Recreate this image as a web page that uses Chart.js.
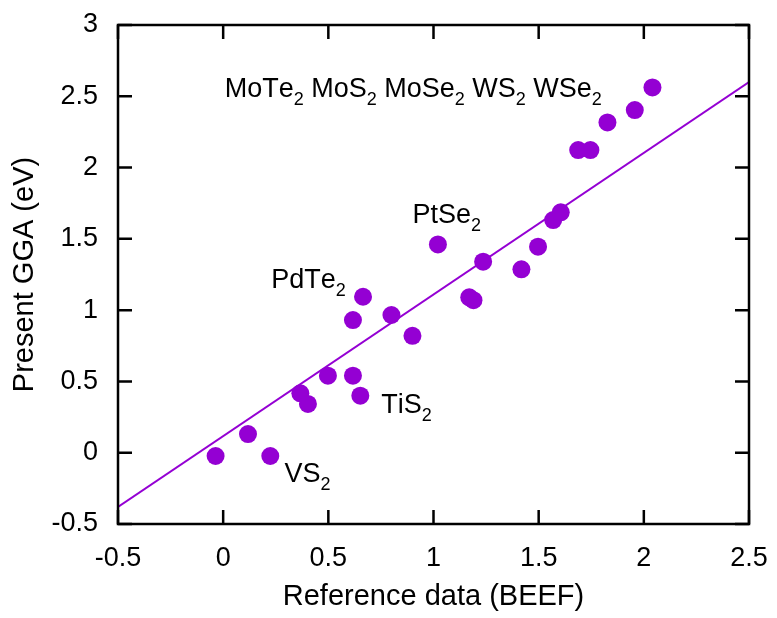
<!DOCTYPE html>
<html>
<head>
<meta charset="utf-8">
<script src="https://cdn.jsdelivr.net/npm/chart.js@4.4.1/dist/chart.umd.min.js"></script>
<style>
  html, body { margin: 0; padding: 0; background: #fff; }
</style>
</head>
<body>
<canvas id="gapChart" width="777" height="618"></canvas>
<script>
// BEEF reference vs present GGA band gaps (eV)
const beefX = [-0.036, 0.118, 0.224, 0.367, 0.403, 0.498, 0.617, 0.652, 0.617, 0.665,
               0.80, 0.90, 1.021, 1.17, 1.19, 1.236, 1.418, 1.497, 1.569, 1.605,
               1.688, 1.746, 1.827, 1.957, 2.041];
const ggaY = [-0.023, 0.131, -0.023, 0.417, 0.342, 0.540, 0.540, 0.400, 0.93, 1.094,
              0.966, 0.82, 1.461, 1.09, 1.07, 1.340, 1.286, 1.445, 1.632, 1.686,
              2.123, 2.123, 2.317, 2.403, 2.562];

// fitted line end points
const fitX = [-0.5, 2.5];
const fitY = [-0.38, 2.60];

// annotations (digits are drawn as subscripts)
const noteText = ["MoTe2 MoS2 MoSe2 WS2 WSe2", "PtSe2", "PdTe2", "TiS2", "VS2"];
const noteX = [0.007, 0.90, 0.229, 0.752, 0.292];
const noteY = [2.494, 1.611, 1.155, 0.280, -0.203];

const xTicks = [-0.5, 0, 0.5, 1, 1.5, 2, 2.5];
const yTicks = [-0.5, 0, 0.5, 1, 1.5, 2, 2.5, 3];

const purple = "#9400D3";
const fontFam = "'Liberation Sans', Arial, sans-serif";

const points = beefX.map((x, i) => ({ x: x, y: ggaY[i] }));
const fitLine = fitX.map((x, i) => ({ x: x, y: fitY[i] }));

const frameTicks = {
  id: "frameTicks",
  afterDatasetsDraw(chart) {
    const ctx = chart.ctx;
    const a = chart.chartArea;
    const xs = chart.scales.x;
    const ys = chart.scales.y;
    const len = 14;
    ctx.save();
    ctx.strokeStyle = "#000";
    ctx.lineWidth = 2.5;
    ctx.beginPath();
    xTicks.forEach(v => {
      const px = xs.getPixelForValue(v);
      ctx.moveTo(px, a.bottom); ctx.lineTo(px, a.bottom - len);
      ctx.moveTo(px, a.top); ctx.lineTo(px, a.top + len);
    });
    yTicks.forEach(v => {
      const py = ys.getPixelForValue(v);
      ctx.moveTo(a.left, py); ctx.lineTo(a.left + len, py);
      ctx.moveTo(a.right, py); ctx.lineTo(a.right - len, py);
    });
    ctx.stroke();
    ctx.strokeRect(a.left, a.top, a.right - a.left, a.bottom - a.top);
    ctx.restore();
  }
};

const notes = {
  id: "notes",
  afterDatasetsDraw(chart) {
    const ctx = chart.ctx;
    const xs = chart.scales.x;
    const ys = chart.scales.y;
    ctx.save();
    ctx.fillStyle = "#000";
    ctx.textBaseline = "alphabetic";
    ctx.textAlign = "left";
    noteText.forEach((txt, i) => {
      let px = xs.getPixelForValue(noteX[i]);
      const py = ys.getPixelForValue(noteY[i]);
      for (const ch of txt) {
        if (/[0-9]/.test(ch)) {
          ctx.font = "18px " + fontFam;
          ctx.fillText(ch, px, py + 8);
        } else {
          ctx.font = "27px " + fontFam;
          ctx.fillText(ch, px, py);
        }
        px += ctx.measureText(ch).width;
      }
    });
    ctx.restore();
  }
};

const config = {
  type: "scatter",
  data: {
    datasets: [
      {
        type: "line",
        data: fitLine,
        borderColor: purple,
        borderWidth: 2,
        pointRadius: 0,
        fill: false,
        order: 2
      },
      {
        data: points,
        backgroundColor: purple,
        borderWidth: 0,
        pointRadius: 9,
        order: 1
      }
    ]
  },
  options: {
    responsive: false,
    animation: false,
    layout: { padding: { left: 0, top: 25, right: 28, bottom: 0 } },
    plugins: {
      legend: { display: false },
      tooltip: { enabled: false }
    },
    scales: {
      x: {
        type: "linear",
        min: -0.5,
        max: 2.5,
        grid: { display: false, drawTicks: false },
        border: { display: false },
        afterBuildTicks: s => { s.ticks = xTicks.map(v => ({ value: v })); },
        afterFit: s => { s.height = 94; s.paddingLeft = 0; s.paddingRight = 0; },
        ticks: {
          color: "#000", padding: 18,
          font: { family: fontFam, size: 27 },
          callback: v => String(v)
        },
        title: {
          display: true,
          text: "Reference data (BEEF)",
          color: "#000",
          padding: { top: 2 },
          font: { family: fontFam, size: 29 }
        }
      },
      y: {
        type: "linear",
        min: -0.5,
        max: 3,
        grid: { display: false, drawTicks: false },
        border: { display: false },
        afterBuildTicks: s => { s.ticks = yTicks.map(v => ({ value: v })); },
        afterFit: s => { s.width = 118; s.paddingTop = 0; s.paddingBottom = 0; },
        ticks: {
          color: "#000", padding: 20,
          font: { family: fontFam, size: 27 },
          callback: v => String(v)
        },
        title: {
          display: true,
          text: "Present GGA (eV)",
          color: "#000",
          padding: { top: 8 },
          font: { family: fontFam, size: 29 }
        }
      }
    }
  },
  plugins: [frameTicks, notes]
};

const myChart = new Chart(document.getElementById("gapChart"), config);
</script>
</body>
</html>
